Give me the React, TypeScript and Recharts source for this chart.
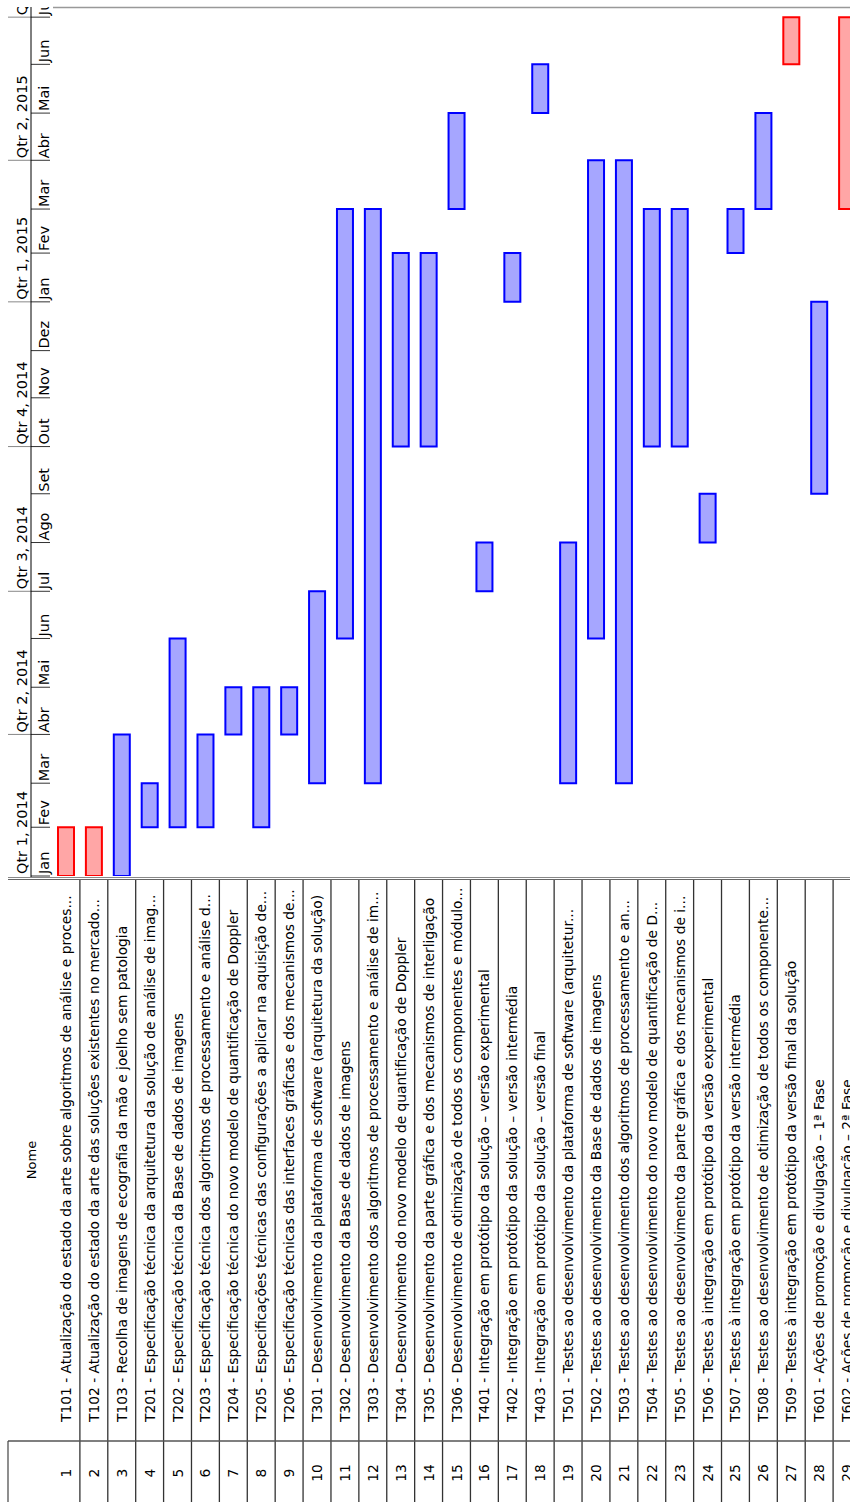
import React from "react";
import { BarChart, Bar, XAxis, YAxis, Cell } from "recharts";

const taskNames = [
  "T101 - Atualização do estado da arte sobre algoritmos de análise e proces...",
  "T102 - Atualização do estado da arte das soluções existentes no mercado...",
  "T103 - Recolha de imagens de ecografia da mão e joelho sem patologia",
  "T201 - Especificação técnica da arquitetura da solução de análise de imag...",
  "T202 - Especificação técnica da Base de dados de imagens",
  "T203 - Especificação técnica dos algoritmos de processamento e análise d...",
  "T204 - Especificação técnica do novo modelo de quantificação de Doppler",
  "T205 - Especificações técnicas das configurações a aplicar na aquisição de...",
  "T206 - Especificação técnicas das interfaces gráficas e dos mecanismos de...",
  "T301 - Desenvolvimento da plataforma de software (arquitetura da solução)",
  "T302 - Desenvolvimento da Base de dados de imagens",
  "T303 - Desenvolvimento dos algoritmos de processamento e análise de im...",
  "T304 - Desenvolvimento do novo modelo de quantificação de Doppler",
  "T305 - Desenvolvimento da parte gráfica e dos mecanismos de interligação",
  "T306 - Desenvolvimento de otimização de todos os componentes e módulo...",
  "T401 - Integração em protótipo da solução – versão experimental",
  "T402 - Integração em protótipo da solução – versão intermédia",
  "T403 - Integração em protótipo da solução – versão final",
  "T501 - Testes ao desenvolvimento da plataforma de software (arquitetur...",
  "T502 - Testes ao desenvolvimento da Base de dados de imagens",
  "T503 - Testes ao desenvolvimento dos algoritmos de processamento e an...",
  "T504 - Testes ao desenvolvimento do novo modelo de quantificação de D...",
  "T505 - Testes ao desenvolvimento da parte gráfica e dos mecanismos de i...",
  "T506 - Testes à integração em protótipo da versão experimental",
  "T507 - Testes à integração em protótipo da versão intermédia",
  "T508 - Testes ao desenvolvimento de otimização de todos os componente...",
  "T509 - Testes à integração em protótipo da versão final da solução",
  "T601 - Ações de promoção e divulgação – 1ª Fase",
  "T602 - Ações de promoção e divulgação – 2ª Fase",
];

// first and last month of each task (inclusive)
const startMonths = [
  "2014-01", "2014-01", "2014-01", "2014-02", "2014-02", "2014-02", "2014-04", "2014-02", "2014-04",
  "2014-03", "2014-06", "2014-03", "2014-10", "2014-10", "2015-03", "2014-07", "2015-01", "2015-05",
  "2014-03", "2014-06", "2014-03", "2014-10", "2014-10", "2014-08", "2015-02", "2015-03", "2015-06",
  "2014-09", "2015-03",
];
const endMonths = [
  "2014-01", "2014-01", "2014-03", "2014-02", "2014-05", "2014-03", "2014-04", "2014-04", "2014-04",
  "2014-06", "2015-02", "2015-02", "2015-01", "2015-01", "2015-04", "2014-07", "2015-01", "2015-05",
  "2014-07", "2015-03", "2015-03", "2015-02", "2015-02", "2014-08", "2015-02", "2015-04", "2015-06",
  "2014-12", "2015-06",
];
const critical = [
  true, true, false, false, false, false, false, false, false,
  false, false, false, false, false, false, false, false, false,
  false, false, false, false, false, false, false, false, true,
  false, true,
];

const monthStarts = [
  "2014-01", "2014-02", "2014-03", "2014-04", "2014-05", "2014-06", "2014-07", "2014-08", "2014-09",
  "2014-10", "2014-11", "2014-12", "2015-01", "2015-02", "2015-03", "2015-04", "2015-05", "2015-06",
  "2015-07",
];
const monthLabels = [
  "Jan", "Fev", "Mar", "Abr", "Mai", "Jun", "Jul", "Ago", "Set",
  "Out", "Nov", "Dez", "Jan", "Fev", "Mar", "Abr", "Mai", "Jun",
  "Jul",
];
const quarterLabels = ["Qtr 1, 2014", "Qtr 2, 2014", "Qtr 3, 2014", "Qtr 4, 2014", "Qtr 1, 2015", "Qtr 2, 2015", "Qtr 3, 2015"];

const FONT = "'DejaVu Sans', sans-serif";
const DAY = 86400000;
const T0 = Date.UTC(2014, 0, 1);

function dayOf(ym: string, next = false) {
  const [y, m] = ym.split("-").map(Number);
  return (Date.UTC(y, m - 1 + (next ? 1 : 0), 1) - T0) / DAY;
}

const monthDays = monthStarts.map((m) => dayOf(m));
const data = taskNames.map((name, i) => ({
  id: i + 1,
  name,
  range: [dayOf(startMonths[i]), dayOf(endMonths[i], true)],
  critical: critical[i],
}));

const W = 861;
const H = 1502;
const TOP = 7;
const BASE = 876; // y of day 0
const LEFT = 52;
const ROW = (W - LEFT) / taskNames.length;
const DMAX = (BASE - TOP) / 1.573;
const TABLE_TOP = 879;
const NUM_LINE = 1441;

function MonthTick(props: any) {
  const { y, payload } = props;
  const i = monthDays.indexOf(payload.value);
  if (i < 0) return null;
  const isQuarter = i % 3 === 0;
  return (
    <g>
      <line x1={31} x2={50} y1={y} y2={y} stroke="#333" strokeWidth={1} />
      <text
        transform={`translate(49, ${y - 2}) rotate(-90)`}
        textAnchor="start"
        fontSize={14.5}
        fontFamily={FONT}
        fill="#000"
      >
        {monthLabels[i]}
      </text>
      {isQuarter && i > 0 && <line x1={8} x2={31} y1={y} y2={y} stroke="#888" strokeWidth={1} />}
      {isQuarter && (
        <text
          transform={`translate(27, ${y - 2}) rotate(-90)`}
          textAnchor="start"
          fontSize={14.5}
          fontFamily={FONT}
          fill="#000"
        >
          {quarterLabels[i / 3]}
        </text>
      )}
    </g>
  );
}

function TaskTick(props: any) {
  const { x, payload } = props;
  const i = payload.index ?? payload.value - 1;
  return (
    <g>
      <line x1={x + ROW / 2} x2={x + ROW / 2} y1={TABLE_TOP} y2={H} stroke="#333" strokeWidth={1.3} />
      <text
        transform={`translate(${x + 5}, 1422) rotate(-90)`}
        textAnchor="start"
        fontSize={13.8}
        fontFamily={FONT}
        fill="#000"
      >
        {taskNames[i]}
      </text>
      <text
        transform={`translate(${x + 5}, 1473) rotate(-90)`}
        textAnchor="middle"
        fontSize={13.8}
        fontFamily={FONT}
        fill="#000"
      >
        {i + 1}
      </text>
    </g>
  );
}

export default function App() {
  return (
    <div style={{ position: "absolute", left: 0, top: 0, width: 850, height: H, overflow: "hidden", background: "#fff" }}>
      <BarChart width={W} height={H} data={data} margin={{ top: TOP, right: 0, left: 0, bottom: 0 }} barCategoryGap={0}>
        <XAxis
          dataKey="id"
          type="category"
          interval={0}
          height={H - BASE}
          tickLine={false}
          axisLine={false}
          tick={<TaskTick />}
        />
        <YAxis
          type="number"
          domain={[0, DMAX]}
          allowDataOverflow
          ticks={monthDays}
          interval={0}
          width={LEFT}
          tickLine={false}
          axisLine={false}
          tick={<MonthTick />}
        />
        <Bar dataKey="range" barSize={16} strokeWidth={2} isAnimationActive={false}>
          {data.map((d) => (
            <Cell key={d.id} fill={d.critical ? "#ffa6a6" : "#a6a6ff"} stroke={d.critical ? "#ff0000" : "#0000ff"} />
          ))}
        </Bar>
      </BarChart>
      <svg width={850} height={H} style={{ position: "absolute", left: 0, top: 0, pointerEvents: "none" }}>
        <rect x={0} y={0} width={53} height={7} fill="#fff" />
        <line x1={53} x2={850} y1={7.5} y2={7.5} stroke="#999" strokeWidth={1.5} />
        <line x1={31} x2={31} y1={7} y2={TABLE_TOP - 1} stroke="#000" strokeWidth={1} />
        <line x1={8} x2={850} y1={877.5} y2={877.5} stroke="#888" strokeWidth={1} />
        <line x1={8} x2={850} y1={TABLE_TOP + 0.5} y2={TABLE_TOP + 0.5} stroke="#666" strokeWidth={1.2} />
        <line x1={8} x2={850} y1={NUM_LINE} y2={NUM_LINE} stroke="#555" strokeWidth={1.5} />
        <line x1={8} x2={8} y1={NUM_LINE} y2={H} stroke="#444" strokeWidth={1.2} />
        <text
          transform={`translate(36, ${(TABLE_TOP + NUM_LINE) / 2}) rotate(-90)`}
          textAnchor="middle"
          fontSize={13}
          fontFamily={FONT}
          fill="#000"
        >
          Nome
        </text>
      </svg>
    </div>
  );
}
